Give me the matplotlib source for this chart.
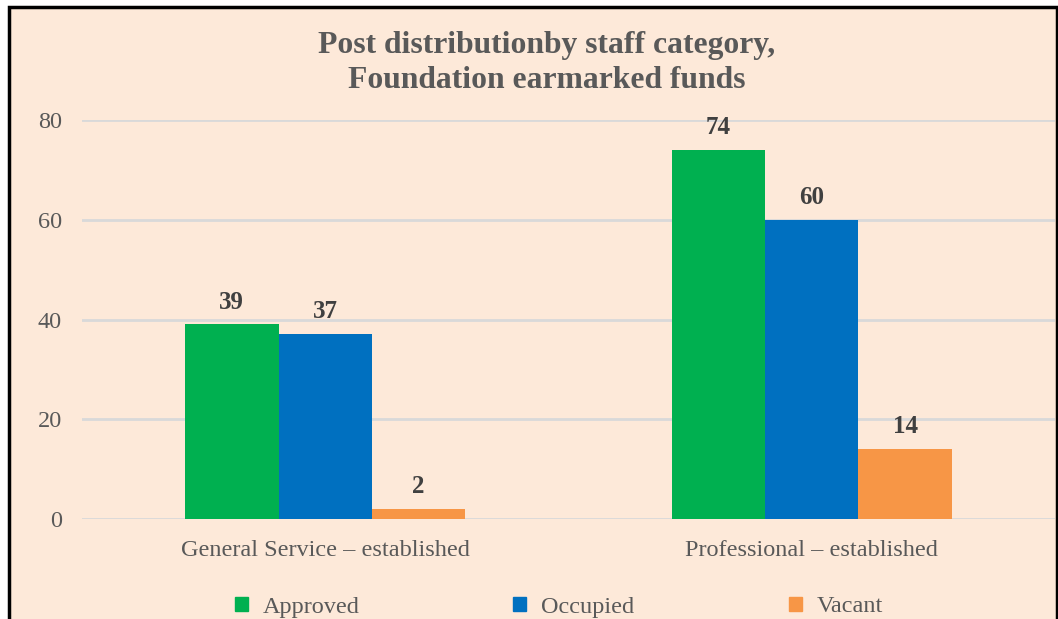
import numpy as np
import matplotlib.pyplot as plt
import matplotlib.patches as mpatches

# data
categories = ['General Service \u2013 established', 'Professional \u2013 established']
series = ['Approved', 'Occupied', 'Vacant']
approved = [39, 74]
occupied = [37, 60]
vacant = [2, 14]
colors = ['#00B050', '#0070C0', '#F79646']

W, H = 1058, 619
fig = plt.figure(figsize=(W / 100, H / 100), dpi=100, facecolor='white')
plt.rcParams['font.family'] = ['Liberation Serif', 'DejaVu Serif']

# peach chart area with black frame (bottom edge runs off the image)
frame = mpatches.Rectangle((8.5 / W, -0.05), (1057 - 8.5) / W, 1.05 - 6.5 / H,
                           transform=fig.transFigure, facecolor='#FDE9D9',
                           edgecolor='black', linewidth=2.5, zorder=-10)
fig.patches.append(frame)

ax = fig.add_axes([82 / W, 1 - 519 / H, (1055 - 82) / W, (519 - 120) / H])
ax.set_facecolor('none')
ax.set_zorder(1)

x = np.arange(len(categories))
bw = 0.192
for i, (vals, col) in enumerate(zip([approved, occupied, vacant], colors)):
    pos = x + (i - 1) * bw
    ax.bar(pos, vals, width=bw, color=col, zorder=3)
    for p, v in zip(pos, vals):
        ax.text(p, v + 2.2, str(v), ha='center', va='bottom', fontsize=18,
                fontweight='bold', color='#404040')

ax.set_xlim(-0.5, 1.5)
ax.set_ylim(0, 80)
ax.set_yticks([0, 20, 40, 60, 80])
ax.set_xticks(x)
ax.set_xticklabels(categories)
ax.grid(axis='y', color='#D9D9D9', linewidth=2, zorder=0)
ax.set_axisbelow(True)
for s in ax.spines.values():
    s.set_visible(False)
ax.tick_params(axis='both', length=0, labelsize=17.5, colors='#595959')
ax.tick_params(axis='y', pad=14.5)
ax.tick_params(axis='x', pad=15)

fig.text(547 / W, 1 - 63 / H, 'Post distributionby staff category,\nFoundation earmarked funds',
         ha='center', va='center', fontsize=22.8, fontweight='bold', color='#595959',
         linespacing=1.25)

# legend entries spaced evenly like the original
legend_x = [213, 491, 767]
for name, col, lx in zip(series, colors, legend_x):
    h = mpatches.Patch(color=col, label=name)
    leg = fig.legend(handles=[h], loc='center left', bbox_to_anchor=(lx / W, 1 - 607 / H),
                     frameon=False, fontsize=17.5, handlelength=0.55, handleheight=0.55,
                     handletextpad=0.6, labelcolor='#595959')

fig.savefig('out.png', dpi=100, facecolor=fig.get_facecolor())
